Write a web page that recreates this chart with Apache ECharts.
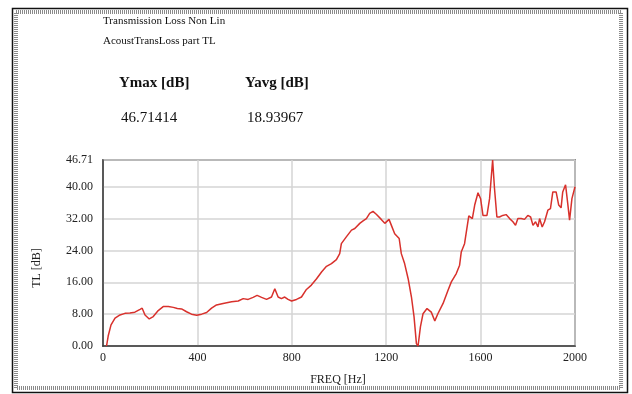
<!DOCTYPE html>
<html>
<head>
<meta charset="utf-8">
<script src="https://cdn.jsdelivr.net/npm/echarts@6/dist/echarts.min.js"></script>
<style>
  html, body { margin: 0; padding: 0; background: #fff; }
  #chart { width: 632px; height: 394px; }
</style>
</head>
<body>
<div id="chart"></div>
<script>
// Transmission loss spectrum (frequency in Hz, TL in dB)
const freq = [15, 22, 34, 51, 72, 93, 114, 135, 157, 166, 178, 196, 213, 234, 255, 277, 298, 315, 333, 354,
  375, 397, 418, 439, 460, 481, 509, 545, 573, 594, 615, 636, 653, 672, 693, 714, 728, 742, 756, 770,
  784, 799, 820, 841, 862, 883, 905, 926, 947, 968, 989, 1003, 1010, 1031, 1053, 1067, 1088, 1102, 1116, 1130,
  1144, 1158, 1179, 1194, 1212, 1222, 1236, 1255, 1264, 1278, 1293, 1307, 1318, 1328, 1335, 1345, 1356, 1373, 1391, 1406,
  1419, 1441, 1462, 1476, 1497, 1511, 1518, 1532, 1550, 1565, 1575, 1589, 1600, 1610, 1627, 1638, 1651, 1659, 1669, 1680,
  1694, 1708, 1723, 1737, 1748, 1758, 1772, 1786, 1800, 1812, 1822, 1833, 1843, 1850, 1861, 1871, 1885, 1896, 1906, 1920,
  1931, 1941, 1948, 1960, 1970, 1977, 1987, 2000];
const tl = [0.0, 2.5, 5.3, 7.0, 7.8, 8.2, 8.3, 8.5, 9.2, 9.5, 7.8, 6.8, 7.4, 8.9, 9.9, 9.9, 9.7, 9.4, 9.3, 8.6,
  8.0, 7.7, 8.0, 8.4, 9.5, 10.3, 10.7, 11.1, 11.3, 11.9, 11.7, 12.2, 12.7, 12.2, 11.7, 12.3, 14.4, 12.3, 11.9, 12.3,
  11.7, 11.3, 11.7, 12.3, 14.2, 15.3, 16.9, 18.6, 20.0, 20.7, 21.7, 23.2, 25.7, 27.4, 29.1, 29.5, 30.8, 31.4, 32.0, 33.3,
  33.8, 33.1, 31.8, 30.8, 31.8, 30.3, 28.2, 27.0, 23.2, 20.7, 16.9, 12.3, 7.3, 0.6, 0.0, 4.8, 8.1, 9.4, 8.5, 6.3,
  8.1, 10.7, 14.0, 16.1, 18.2, 20.3, 23.6, 25.7, 32.7, 32.0, 35.4, 38.5, 37.0, 32.8, 32.8, 37.0, 46.71414, 39.5, 32.4, 32.4,
  32.8, 33.0, 32.0, 31.2, 30.3, 32.0, 32.0, 31.8, 32.8, 32.4, 30.3, 31.2, 29.9, 32.0, 29.9, 31.2, 34.1, 34.5, 38.7, 38.7,
  35.4, 34.7, 38.7, 40.5, 35.4, 31.6, 37.0, 40.0];

// Header texts and summary values
const titleLines = ['Transmission Loss Non Lin', 'AcoustTransLoss part TL'];
const statNames = ['Ymax [dB]', 'Yavg [dB]'];
const statValues = ['46.71414', '18.93967'];
const xTicks = [0, 400, 800, 1200, 1600, 2000];
const yTickStep = 8;
const yMax = 46.71414;

const serif = '"Liberation Serif", "DejaVu Serif", serif';
const chart = echarts.init(document.getElementById('chart'), null, { renderer: 'canvas' });

chart.setOption({
  animation: false,
  backgroundColor: '#ffffff',
  grid: { left: 103, right: 57, top: 160, bottom: 48, show: true, borderColor: '#3a3a3a', borderWidth: 1.5 },
  xAxis: {
    type: 'value', min: xTicks[0], max: xTicks[xTicks.length - 1], interval: xTicks[1] - xTicks[0],
    axisLine: { show: true, lineStyle: { color: '#3a3a3a', width: 1.5 } },
    axisTick: { show: false },
    axisLabel: { color: '#222', fontFamily: serif, fontSize: 12, margin: 6, formatter: v => String(v) },
    splitLine: { lineStyle: { color: '#d4d4d4', width: 1.5 } }
  },
  yAxis: {
    type: 'value', min: 0, max: yMax, interval: yTickStep,
    axisLine: { show: true, lineStyle: { color: '#3a3a3a', width: 1.5 } },
    axisTick: { show: false },
    axisLabel: { color: '#222', fontFamily: serif, fontSize: 12, margin: 10, formatter: v => v.toFixed(2), showMaxLabel: true },
    splitLine: { lineStyle: { color: '#d4d4d4', width: 1.5 } }
  },
  graphic: [
    { type: 'rect', shape: { x: 12.5, y: 8.5, width: 615, height: 384 }, style: { fill: null, stroke: '#111', lineWidth: 1.5 }, silent: true },
    { type: 'rect', shape: { x: 16, y: 12, width: 605, height: 376 }, style: { fill: null, stroke: '#8a8a8a', lineWidth: 4, lineDash: [1, 1] }, silent: true },
    { type: 'text', left: 103, top: 16, style: { text: titleLines[0], font: '11px ' + serif, fill: '#111' } },
    { type: 'text', left: 103, top: 36, style: { text: titleLines[1], font: '11px ' + serif, fill: '#111' } },
    { type: 'text', left: 119, top: 76, style: { text: statNames[0], font: 'bold 15px ' + serif, fill: '#111' } },
    { type: 'text', left: 245, top: 76, style: { text: statNames[1], font: 'bold 15px ' + serif, fill: '#111' } },
    { type: 'text', left: 121, top: 111, style: { text: statValues[0], font: '15px ' + serif, fill: '#111' } },
    { type: 'text', left: 247, top: 111, style: { text: statValues[1], font: '15px ' + serif, fill: '#111' } },
    { type: 'text', x: 37, y: 268, rotation: Math.PI / 2, style: { text: 'TL [dB]', font: '12px ' + serif, fill: '#222', textAlign: 'center', textVerticalAlign: 'middle' } },
    { type: 'text', x: 338, y: 380, style: { text: 'FREQ [Hz]', font: '12px ' + serif, fill: '#222', textAlign: 'center', textVerticalAlign: 'middle' } }
  ],
  series: [{
    type: 'line',
    data: freq.map((f, i) => [f, tl[i]]),
    showSymbol: false,
    lineStyle: { color: '#d8312c', width: 1.5 },
    clip: true
  }]
});
</script>
</body>
</html>
